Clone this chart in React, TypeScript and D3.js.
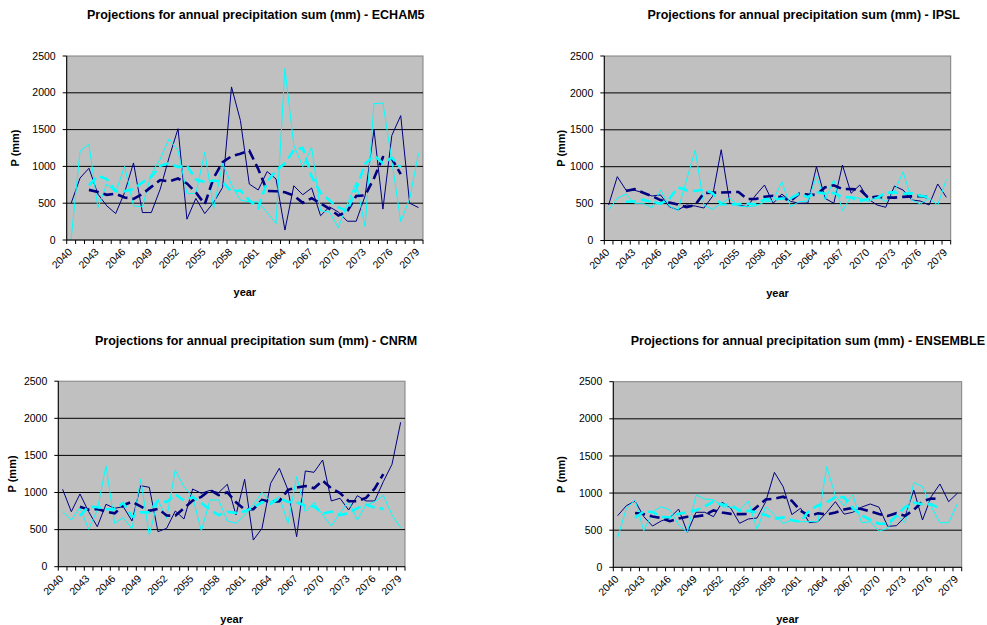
import React from "react";
import * as d3 from "d3";

// Categories (years) and axis ticks
const YEARS = [
  2040, 2041, 2042, 2043, 2044, 2045, 2046, 2047, 2048, 2049,
  2050, 2051, 2052, 2053, 2054, 2055, 2056, 2057, 2058, 2059,
  2060, 2061, 2062, 2063, 2064, 2065, 2066, 2067, 2068, 2069,
  2070, 2071, 2072, 2073, 2074, 2075, 2076, 2077, 2078, 2079,
];
const Y_TICKS = [0, 500, 1000, 1500, 2000, 2500];
const YEAR_LABEL_STEP = 3;

// Annual precipitation sums (mm), two runs per model
const ECHAM5_A = [
  500, 842, 975, 624, 464, 359, 646, 1047, 373, 373,
  692, 1124, 1512, 283, 565, 359, 510, 715, 2080, 1625,
  760, 680, 930, 830, 135, 737, 615, 706, 330, 450,
  380, 255, 255, 600, 1500, 420, 1420, 1690, 500, 440,
];
const ECHAM5_B = [
  10, 1210, 1298, 441, 760, 646, 1000, 464, 450, 900,
  1100, 1375, 1216, 633, 633, 1193, 428, 1040, 750, 542,
  519, 517, 373, 223, 2330, 1284, 997, 1260, 396, 380,
  168, 487, 783, 178, 1853, 1860, 1080, 250, 556, 1179,
];

const IPSL_A = [
  481, 865, 684, 680, 648, 603, 617, 458, 413, 481,
  467, 440, 600, 1230, 504, 481, 458, 617, 752, 504,
  630, 530, 504, 507, 1000, 571, 504, 1023, 640, 752,
  560, 481, 450, 738, 684, 549, 535, 481, 766, 585,
];
const IPSL_B = [
  413, 571, 630, 504, 504, 445, 684, 467, 404, 820,
  1226, 481, 422, 504, 576, 467, 458, 470, 520, 540,
  797, 458, 526, 535, 865, 549, 820, 404, 594, 571,
  526, 594, 526, 662, 932, 549, 495, 571, 481, 829,
];

const CNRM_A = [
  1043, 742, 980, 742, 539, 841, 787, 809, 616, 1092,
  1070, 472, 517, 751, 643, 1047, 989, 1029, 998, 1111,
  697, 1178, 359, 517, 1124, 1326, 1034, 404, 1290, 1272,
  1438, 886, 922, 764, 957, 886, 886, 1146, 1380, 1946,
];
const CNRM_B = [
  742, 629, 795, 504, 764, 1361, 585, 661, 508, 1178,
  427, 899, 652, 1303, 1078, 944, 481, 899, 899, 616,
  585, 697, 832, 1003, 876, 944, 585, 1213, 742, 863,
  697, 549, 720, 886, 629, 832, 876, 962, 697, 526,
];

const ENSEMBLE_A = [
  695, 830, 893, 682, 556, 624, 668, 785, 471, 741,
  741, 682, 875, 795, 593, 651, 664, 884, 1279, 1086,
  710, 795, 601, 615, 740, 884, 716, 741, 810, 853,
  810, 552, 560, 682, 1041, 637, 951, 1122, 884, 997,
];
const ENSEMBLE_B = [
  399, 795, 907, 493, 741, 817, 772, 570, 471, 974,
  920, 910, 817, 808, 772, 893, 512, 817, 705, 590,
  637, 615, 615, 615, 1355, 960, 828, 974, 600, 615,
  487, 525, 705, 601, 1140, 1086, 817, 601, 601, 853,
];

const TITLE_PREFIX = "Projections for annual precipitation sum (mm) - ";

// 5-year centred running mean; ends without a full window are left empty
function runningMean(values: number[], window = 5): (number | null)[] {
  const h = Math.floor(window / 2);
  return values.map((_, i) =>
    i < h || i >= values.length - h
      ? null
      : (d3.mean(values.slice(i - h, i + h + 1)) as number)
  );
}

type Panel = {
  model: string;
  a: number[];
  b: number[];
  x0: number;
  x1: number;
  y0: number;
  y1: number;
  titleX: number;
  titleY: number;
  titleAnchor: "start" | "end";
  yTitleX: number;
};

const PANELS: Panel[] = [
  { model: "ECHAM5", a: ECHAM5_A, b: ECHAM5_B, x0: 66.7, x1: 423, y0: 56, y1: 240, titleX: 87, titleY: 19, titleAnchor: "start", yTitleX: 15 },
  { model: "IPSL", a: IPSL_A, b: IPSL_B, x0: 604.3, x1: 950.7, y0: 56, y1: 240.5, titleX: 960, titleY: 19, titleAnchor: "end", yTitleX: 561 },
  { model: "CNRM", a: CNRM_A, b: CNRM_B, x0: 58.3, x1: 405, y0: 381.2, y1: 566.7, titleX: 95, titleY: 345, titleAnchor: "start", yTitleX: 12 },
  { model: "ENSEMBLE", a: ENSEMBLE_A, b: ENSEMBLE_B, x0: 613.3, x1: 961.7, y0: 381.7, y1: 567.3, titleX: 985, titleY: 345, titleAnchor: "end", yTitleX: 561 },
];

const NAVY = "#000080";
const CYAN = "#00FFFF";
const FONT = "'Liberation Sans', Arial, Helvetica, sans-serif";

function ChartPanel({ p }: { p: Panel }) {
  const x = d3.scaleBand<number>().domain(YEARS).range([p.x0, p.x1]).padding(0);
  const y = d3.scaleLinear().domain([0, 2500]).range([p.y1, p.y0]);
  const bw = x.bandwidth();
  const cx = (yr: number) => (x(yr) as number) + bw / 2;

  const line = d3
    .line<number>()
    .x((_, i) => cx(YEARS[i]))
    .y((d) => y(d));
  const maLine = d3
    .line<number | null>()
    .defined((d) => d != null)
    .x((_, i) => cx(YEARS[i]))
    .y((d) => y(d as number));

  const maA = runningMean(p.a);
  const maB = runningMean(p.b);

  const boundaries = d3.range(YEARS.length + 1).map((k) => p.x0 + k * bw);
  const midX = (p.x0 + p.x1) / 2;
  const midY = (p.y0 + p.y1) / 2;

  return (
    <g>
      <text
        x={p.titleX}
        y={p.titleY}
        textAnchor={p.titleAnchor}
        fontFamily={FONT}
        fontWeight="bold"
        fontSize={12.5}
        fill="#000"
      >
        {TITLE_PREFIX + p.model}
      </text>

      {/* plot area */}
      <rect x={p.x0} y={p.y0} width={p.x1 - p.x0} height={p.y1 - p.y0} fill="#C0C0C0" stroke="#808080" strokeWidth={1} />

      {/* horizontal gridlines */}
      {Y_TICKS.filter((t) => t > 0 && t < 2500).map((t) => (
        <line key={t} x1={p.x0} x2={p.x1} y1={y(t)} y2={y(t)} stroke="#000" strokeWidth={1} />
      ))}

      {/* series */}
      <path d={line(p.a) || ""} fill="none" stroke={NAVY} strokeWidth={1} />
      <path d={line(p.b) || ""} fill="none" stroke={CYAN} strokeWidth={1} />
      <path d={maLine(maA) || ""} fill="none" stroke={NAVY} strokeWidth={2.6} strokeDasharray="10 5" />
      <path d={maLine(maB) || ""} fill="none" stroke={CYAN} strokeWidth={2.6} strokeDasharray="10 5" />

      {/* value axis */}
      <line x1={p.x0} x2={p.x0} y1={p.y0} y2={p.y1} stroke="#000" strokeWidth={1} />
      {Y_TICKS.map((t) => (
        <g key={t}>
          <line x1={p.x0 - 4} x2={p.x0} y1={y(t)} y2={y(t)} stroke="#000" strokeWidth={1} />
          <text
            x={p.x0 - 11}
            y={y(t)}
            dy="0.35em"
            textAnchor="end"
            fontFamily={FONT}
            fontSize={10.5}
            fill="#000"
          >
            {t}
          </text>
        </g>
      ))}

      {/* category axis */}
      <line x1={p.x0} x2={p.x1} y1={p.y1} y2={p.y1} stroke="#000" strokeWidth={1} />
      {boundaries.map((bx, k) => (
        <line key={k} x1={bx} x2={bx} y1={p.y1} y2={p.y1 + 4} stroke="#000" strokeWidth={1} />
      ))}
      {YEARS.filter((_, i) => i % YEAR_LABEL_STEP === 0).map((yr) => (
        <text
          key={yr}
          transform={`translate(${cx(yr) - 1},${p.y1 + 10}) rotate(-45)`}
          dy="0.35em"
          textAnchor="end"
          fontFamily={FONT}
          fontSize={10.5}
          fill="#000"
        >
          {yr}
        </text>
      ))}

      {/* axis titles */}
      <text
        x={midX}
        y={p.y1 + 56}
        textAnchor="middle"
        fontFamily={FONT}
        fontWeight="bold"
        fontSize={11}
        fill="#000"
      >
        year
      </text>
      <text
        transform={`translate(${p.yTitleX + 4},${midY}) rotate(-90)`}
        textAnchor="middle"
        fontFamily={FONT}
        fontWeight="bold"
        fontSize={11}
        fill="#000"
      >
        P (mm)
      </text>
    </g>
  );
}

export default function App() {
  return (
    <svg
      width={987}
      height={625}
      viewBox="0 0 987 625"
      style={{ position: "absolute", left: 0, top: 0, background: "#fff" }}
    >
      <rect x={0} y={0} width={987} height={625} fill="#fff" />
      {PANELS.map((p) => (
        <ChartPanel key={p.model} p={p} />
      ))}
    </svg>
  );
}
